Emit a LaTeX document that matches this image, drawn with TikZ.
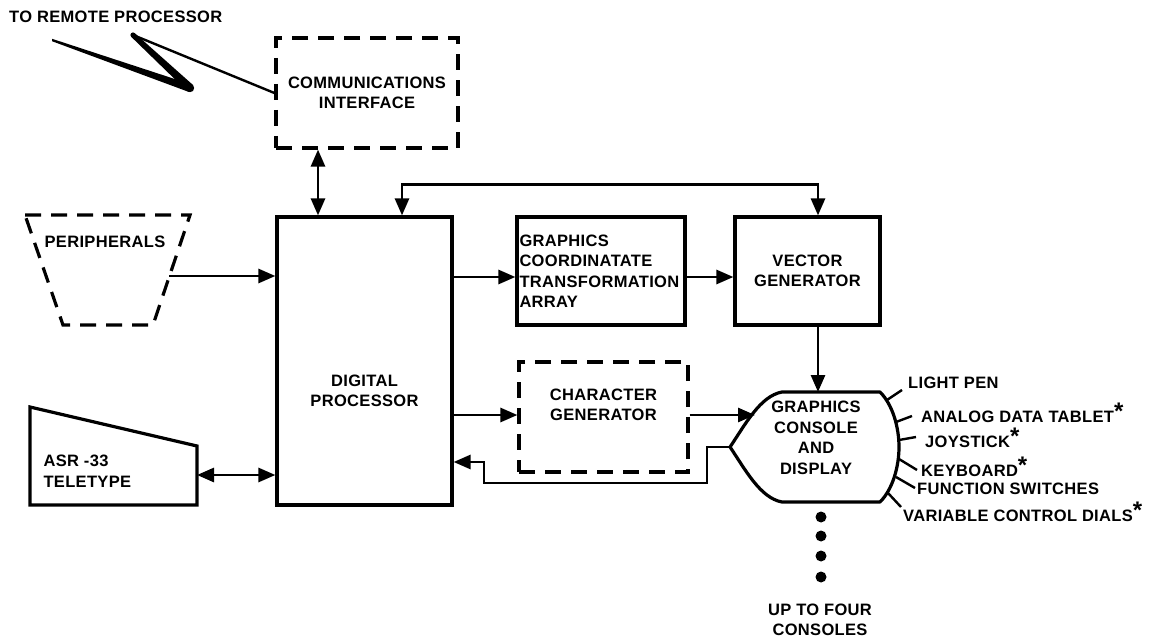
\documentclass[tikz,border=0pt]{standalone}
\usepackage{fontspec}
\setmainfont{Liberation Sans}[LetterSpace=2]
\usepackage{tikz}
\usetikzlibrary{arrows.meta,positioning}
\newcommand{\bigast}{\raisebox{3pt}{\fontsize{24}{24}\selectfont *}}
\tikzset{
  block/.style={draw, line width=3.2pt, align=center, inner sep=2pt},
  dashblock/.style={block, dash pattern=on 16pt off 10pt},
  flow/.style={-{Triangle[length=17pt,width=14pt]}, line width=2.8pt},
  dflow/.style={{Triangle[length=17pt,width=14pt]}-{Triangle[length=17pt,width=14pt]}, line width=2.8pt},
  tick/.style={line width=2.4pt},
  input/.style={anchor=west, inner sep=1pt}
}

\begin{document}
\begin{tikzpicture}[x=1pt, y=-1pt, font=\fontsize{16.5}{20.5}\selectfont\bfseries]
        \useasboundingbox (0,0) rectangle (1170,639);
        \fill[white] (0,0) rectangle (1170,639);
        % blocks
        \node[dashblock, minimum width=182, minimum height=110] (comm) at (367,93) {COMMUNICATIONS\\INTERFACE};
        \node[block, minimum width=175, minimum height=288,
          label={[align=center, yshift=-30]center:DIGITAL\\PROCESSOR}] (dp) at (364.5,361) {};
        \node[block, minimum width=168, minimum height=108, align=left, text width=163, inner xsep=1pt] (gcta) at (601,271) {GRAPHICS\\COORDINATATE\\TRANSFORMATION\\ARRAY};
        \node[block, minimum width=145, minimum height=108] (vg) at (807.5,271) {VECTOR\\GENERATOR};
        \node[dashblock, minimum width=169, minimum height=110,
          label={[align=center, yshift=12]center:CHARACTER\\GENERATOR}] (cg) at (603.5,417) {};
        % peripherals
        \draw[line width=3.2pt, dash pattern=on 16pt off 10pt] (25,215) -- (190,215) -- (153,325) -- (63,325) -- cycle;
        \node (periph) at (105,242) {PERIPHERALS};
        \coordinate (periph-out) at (169,276);
        % teletype
        \draw[line width=3.2pt] (30,407) -- (197,446) -- (197,505) -- (30,505) -- cycle;
        \node[align=left, anchor=west] (tty) at (40,471) {ASR -33\\TELETYPE};
        \coordinate (tty-port) at (197,475);
        % console
        \coordinate (console-tip) at (730,447);
        \coordinate (console-top) at (818,392);
        \coordinate (console-in) at (755,415);
        \draw[line width=3.2pt, line join=round] (console-tip) .. controls (745,425) and (760,396) .. (782,392)
          -- (880,392) .. controls (893,405) and (899,428) .. (899,447)
          .. controls (899,466) and (893,489) .. (880,502) -- (782,502)
          .. controls (760,498) and (745,469) .. (console-tip) -- cycle;
        \node[align=center] (console) at (816,438) {GRAPHICS\\CONSOLE\\AND\\DISPLAY};
        % remote link
        \node[anchor=west, inner sep=1pt] (remote) at (8,17) {TO REMOTE PROCESSOR};
        \fill (52,38.8) -- (190,84) -- (189,92) -- (52,41.2) -- cycle;
        \fill (193,85) -- (134.8,33.2) -- (131.2,36.8) -- (187,91) -- cycle;
        \fill (190,88) circle (4.2pt);
        \fill (133,35) circle (2.6pt);
        \draw[line width=2.4pt] (133,35) -- (comm.west);
        % connectors
        \draw[dflow] (comm.south -| 318,0) -- (dp.north -| 318,0);
        \draw[dflow] (dp.north -| 402,0) -- ++(0,-31) -| (vg.north -| 818,0);
        \draw[flow] (periph-out) -- (dp.west |- periph-out);
        \draw[dflow] (tty-port) -- (dp.west |- tty-port);
        \draw[flow] (dp.east |- 0,277) -- (gcta.west |- 0,277);
        \draw[flow] (gcta.east |- 0,277) -- (vg.west |- 0,277);
        \draw[flow] (vg.south -| 818,0) -- (console-top);
        \draw[flow] (dp.east |- 0,415) -- (cg.west |- 0,415);
        \draw[flow] (cg.east |- 0,415) -- (console-in);
        \draw[flow] (console-tip) -- ++(-23,0) |- (484,483) |- (dp.east |- 0,462);
        % console inputs
        \node[input] (lpen) at (907,383) {LIGHT PEN};
        \node[input] (tablet) at (920,413) {ANALOG DATA TABLET\bigast};
        \node[input] (joystick) at (924,438) {JOYSTICK\bigast};
        \node[input] (keyboard) at (920,467) {KEYBOARD\bigast};
        \node[input] (fswitch) at (916,489) {FUNCTION SWITCHES};
        \node[input] (dials) at (902,512) {VARIABLE CONTROL DIALS\bigast};
        \draw[tick] (887,400) -- ([shift={(-5,7)}]lpen.west);
        \draw[tick] (896,422) -- ([shift={(-8,3)}]tablet.west);
        \draw[tick] (899,440) -- ([shift={(-8,-1)}]joystick.west);
        \draw[tick] (899,459) -- ([shift={(-3,3)}]keyboard.west);
        \draw[tick] (896,477) -- ([shift={(-1,-1)}]fswitch.west);
        \draw[tick] (888,493) -- ([shift={(-1,-5)}]dials.west);
        % more consoles
        \foreach \y in {517,536,556,577} \fill (821,\y) circle (5.5pt);
        \node[align=center] (more) at (820,620) {UP TO FOUR\\CONSOLES};
    \end{tikzpicture}
\end{document}
